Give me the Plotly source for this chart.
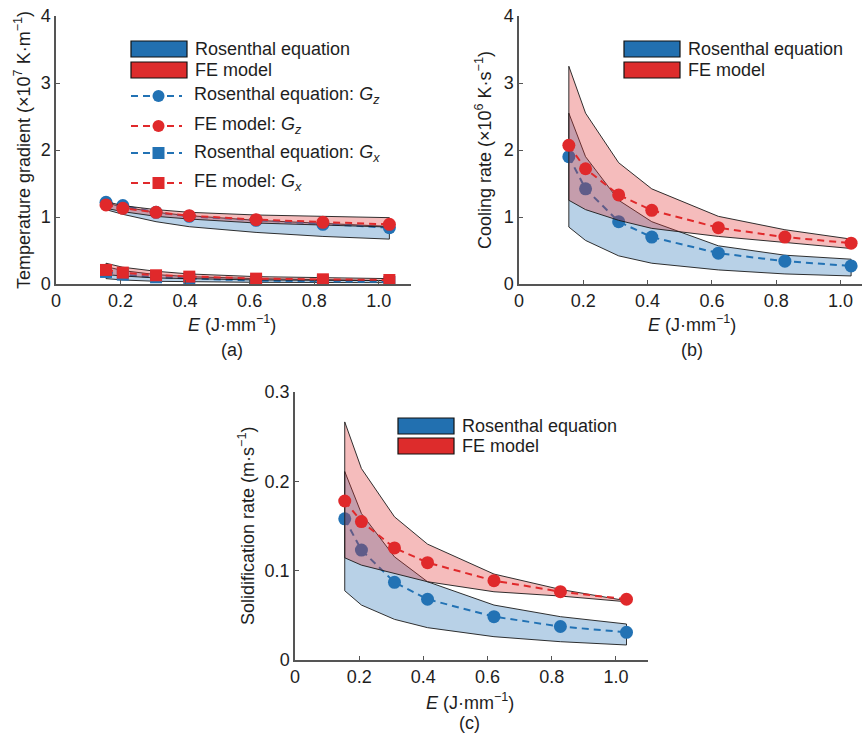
import plotly.graph_objects as go

W, H = 862, 734

# ---------------- data ----------------
E = [0.155, 0.207, 0.31, 0.413, 0.62, 0.827, 1.033]

# (a) temperature gradient, x1e7 K/m
gz_ros = [1.22, 1.17, 1.07, 1.01, 0.95, 0.89, 0.84]
gz_fe = [1.18, 1.13, 1.07, 1.02, 0.96, 0.92, 0.89]
gz_ros_up = [1.21, 1.15, 1.07, 1.02, 0.95, 0.90, 0.86]
gz_ros_lo = [1.11, 1.04, 0.93, 0.855, 0.77, 0.71, 0.67]
gz_fe_up = [1.23, 1.17, 1.11, 1.07, 1.03, 1.01, 0.99]
gz_fe_lo = [1.13, 1.08, 1.01, 0.97, 0.91, 0.88, 0.85]

gx_ros = [0.18, 0.14, 0.10, 0.08, 0.05, 0.04, 0.03]
gx_fe = [0.21, 0.17, 0.13, 0.11, 0.08, 0.07, 0.06]
gx_ros_up = [0.26, 0.20, 0.14, 0.11, 0.08, 0.06, 0.05]
gx_ros_lo = [0.08, 0.06, 0.04, 0.035, 0.025, 0.02, 0.02]
gx_fe_up = [0.31, 0.25, 0.19, 0.15, 0.11, 0.09, 0.08]
gx_fe_lo = [0.14, 0.12, 0.09, 0.08, 0.06, 0.05, 0.05]

# (b) cooling rate, x1e6 K/s
cr_ros = [1.90, 1.42, 0.93, 0.70, 0.46, 0.34, 0.27]
cr_fe = [2.07, 1.72, 1.33, 1.10, 0.84, 0.70, 0.61]
cr_ros_up = [2.55, 1.90, 1.25, 0.93, 0.57, 0.43, 0.37]
cr_ros_lo = [0.85, 0.65, 0.42, 0.31, 0.21, 0.15, 0.12]
cr_fe_up = [3.25, 2.55, 1.81, 1.42, 1.01, 0.81, 0.67]
cr_fe_lo = [1.25, 1.11, 0.95, 0.83, 0.71, 0.62, 0.53]

# (c) solidification rate, m/s
sr_ros = [0.158, 0.123, 0.087, 0.068, 0.0485, 0.0375, 0.031]
sr_fe = [0.178, 0.155, 0.1255, 0.109, 0.0888, 0.0765, 0.068]
sr_ros_up = [0.211, 0.164, 0.1155, 0.0876, 0.0615, 0.0485, 0.0403]
sr_ros_lo = [0.0775, 0.0615, 0.0455, 0.0362, 0.0261, 0.0205, 0.0168]
sr_fe_up = [0.2665, 0.2143, 0.1603, 0.1297, 0.0962, 0.079, 0.0663]
sr_fe_lo = [0.1144, 0.1062, 0.0969, 0.0876, 0.0764, 0.0716, 0.0652]

x_tickvals = [0, 0.2, 0.4, 0.6, 0.8, 1.0]
x_ticktext = ["0", "0.2", "0.4", "0.6", "0.8", "1.0"]
y_tickvals_ab = [0, 1, 2, 3, 4]
y_ticktext_ab = ["0", "1", "2", "3", "4"]
y_tickvals_c = [0, 0.1, 0.2, 0.3]
y_ticktext_c = ["0", "0.1", "0.2", "0.3"]

# ---------------- style ----------------
BLUE = "#2272b4"
RED = "#e0292b"
BLUE_FILL = "rgba(33,113,181,0.32)"
RED_FILL = "rgba(224,46,48,0.32)"
SW_BLUE = "#2270b0"
SW_RED = "#dd2c2c"
FONT = "Liberation Sans, Arial, sans-serif"
TXT = "#1e1e1e"
FS = 18
DASH = "7px,5px"


def px(x):
    return x / W


def py(y):
    return 1 - y / H


fig = go.Figure()


def band(up, lo, fill, xa, ya):
    fig.add_trace(go.Scatter(
        x=E + E[::-1] + [E[0]], y=up + lo[::-1] + [up[0]],
        mode="lines", fill="toself", fillcolor=fill,
        line=dict(color="#1a1a1a", width=0.9),
        xaxis=xa, yaxis=ya, showlegend=False, hoverinfo="skip"))


def series(ys, color, symbol, xa, ya, size=13):
    fig.add_trace(go.Scatter(
        x=E, y=ys, mode="lines+markers",
        line=dict(color=color, width=2, dash=DASH),
        marker=dict(size=size, color=color, symbol=symbol, line=dict(width=0)),
        xaxis=xa, yaxis=ya, showlegend=False))


# panel (a)
band(gz_ros_up, gz_ros_lo, BLUE_FILL, "x", "y")
series(gz_ros, BLUE, "circle", "x", "y")
band(gx_ros_up, gx_ros_lo, BLUE_FILL, "x", "y")
series(gx_ros, BLUE, "square", "x", "y", 12)
band(gz_fe_up, gz_fe_lo, RED_FILL, "x", "y")
series(gz_fe, RED, "circle", "x", "y")
band(gx_fe_up, gx_fe_lo, RED_FILL, "x", "y")
series(gx_fe, RED, "square", "x", "y", 12)

# panel (b)
band(cr_ros_up, cr_ros_lo, BLUE_FILL, "x2", "y2")
series(cr_ros, BLUE, "circle", "x2", "y2")
band(cr_fe_up, cr_fe_lo, RED_FILL, "x2", "y2")
series(cr_fe, RED, "circle", "x2", "y2")

# panel (c)
band(sr_ros_up, sr_ros_lo, BLUE_FILL, "x3", "y3")
series(sr_ros, BLUE, "circle", "x3", "y3")
band(sr_fe_up, sr_fe_lo, RED_FILL, "x3", "y3")
series(sr_fe, RED, "circle", "x3", "y3")

axis_common = dict(
    showgrid=False, zeroline=False, showline=True, linecolor="#555555",
    linewidth=1.5, ticks="inside", ticklen=4, tickwidth=1, tickcolor="#555555",
    tickfont=dict(family=FONT, size=FS, color=TXT), mirror=False,
    automargin=False,
)

fig.update_layout(
    width=W, height=H, margin=dict(l=0, r=0, t=0, b=0, pad=0),
    paper_bgcolor="white", plot_bgcolor="white", showlegend=False,
    font=dict(family=FONT, size=FS, color=TXT),
    xaxis=dict(domain=[px(56), px(411)], range=[0, 1.1], anchor="y",
               tickvals=x_tickvals, ticktext=x_ticktext, **axis_common),
    yaxis=dict(domain=[py(284), py(16)], range=[0, 4], anchor="x",
               tickvals=y_tickvals_ab, ticktext=y_ticktext_ab, **axis_common),
    xaxis2=dict(domain=[px(519), 1.0], range=[0, 343 / 321.5], anchor="y2",
                tickvals=x_tickvals, ticktext=x_ticktext, **axis_common),
    yaxis2=dict(domain=[py(284), py(16)], range=[0, 4], anchor="x2",
                tickvals=y_tickvals_ab, ticktext=y_ticktext_ab, **axis_common),
    xaxis3=dict(domain=[px(295), px(648)], range=[0, 1.1], anchor="y3",
                tickvals=x_tickvals, ticktext=x_ticktext, **axis_common),
    yaxis3=dict(domain=[py(660), py(392)], range=[0, 0.3], anchor="x3",
                tickvals=y_tickvals_c, ticktext=y_ticktext_c, **axis_common),
)

ann = []
shapes = []


def text(x, y, s, xanchor="center", angle=0):
    ann.append(dict(x=px(x), y=py(y), xref="paper", yref="paper", text=s,
                    showarrow=False, xanchor=xanchor, yanchor="middle",
                    textangle=angle, font=dict(family=FONT, size=FS, color=TXT)))


# axis titles & panel labels
XT = "<i>E</i> (J·mm<sup>−1</sup>)"
text(232, 323, XT)
text(232, 350, "(a)")
text(692, 323, XT)
text(692, 350, "(b)")
text(470, 701, XT)
text(470, 723, "(c)")
text(22, 150, "Temperature gradient (×10<sup>7</sup> K·m<sup>−1</sup>)", angle=-90)
text(483, 150, "Cooling rate (×10<sup>6</sup> K·s<sup>−1</sup>)", angle=-90)
text(246, 526, "Solidification rate (m·s<sup>−1</sup>)", angle=-90)


def swatch(x0, y0, x1, y1, color, label):
    shapes.append(dict(type="rect", xref="paper", yref="paper",
                       x0=px(x0), x1=px(x1), y0=py(y1), y1=py(y0),
                       fillcolor=color, line=dict(color="#111111", width=1.2)))
    text(x1 + 6, (y0 + y1) / 2, label, xanchor="left")


def line_item(x0, x1, y, color, symbol, label):
    shapes.append(dict(type="line", xref="paper", yref="paper",
                       x0=px(x0), x1=px(x1), y0=py(y), y1=py(y),
                       line=dict(color=color, width=2, dash=DASH)))
    cx = (x0 + x1) / 2 + 2
    r = 6
    shapes.append(dict(type="circle" if symbol == "circle" else "rect",
                       xref="paper", yref="paper",
                       x0=px(cx - r), x1=px(cx + r), y0=py(y + r), y1=py(y - r),
                       fillcolor=color, line=dict(width=0)))
    text(x1 + 10, y, label, xanchor="left")


# legend (a)
swatch(131, 41, 187, 57, SW_BLUE, "Rosenthal equation")
swatch(131, 62, 187, 78, SW_RED, "FE model")
line_item(131, 182, 96, BLUE, "circle", "Rosenthal equation: <i>G</i><sub><i>z</i></sub>")
line_item(131, 182, 126, RED, "circle", "FE model: <i>G</i><sub><i>z</i></sub>")
line_item(131, 182, 153, BLUE, "square", "Rosenthal equation: <i>G</i><sub><i>x</i></sub>")
line_item(131, 182, 183, RED, "square", "FE model: <i>G</i><sub><i>x</i></sub>")

# legend (b)
swatch(624, 41, 680, 57, SW_BLUE, "Rosenthal equation")
swatch(624, 62, 680, 78, SW_RED, "FE model")

# legend (c)
swatch(398, 418, 454, 434, SW_BLUE, "Rosenthal equation")
swatch(398, 438, 454, 454, SW_RED, "FE model")

fig.update_layout(annotations=ann, shapes=shapes)

fig.write_html(
    "out.html",
    config={"displayModeBar": False},
    post_script="document.body.style.margin='0';document.body.style.padding='0';",
)
